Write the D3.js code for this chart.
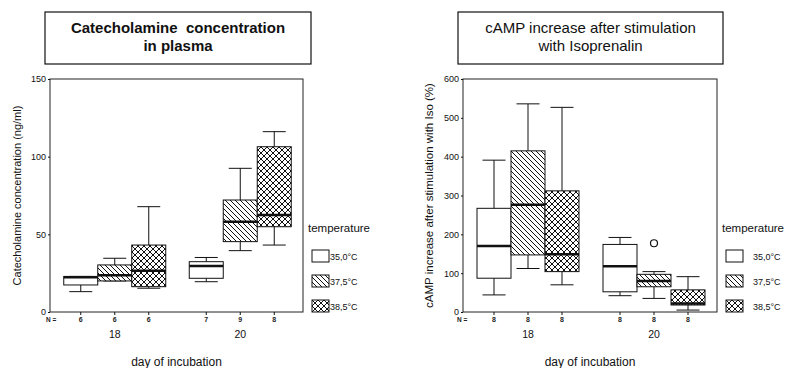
<!DOCTYPE html>
<meta charset="utf-8">
<style>
    body {
        margin: 0;
        background: #fff;
        font-family: Arial, 'Liberation Sans', sans-serif;
    }
</style>
<svg width="785" height="368"></svg>
<script src="https://d3js.org/d3.v7.min.js"></script>
<script>
    // categories
    var days = ["18", "20"];
    var temps = ["35,0°C", "37,5°C", "38,5°C"];

    // catecholamine (ng/ml): [min, q1, median, q3, max], order day18 x3 temps, day20 x3 temps
    var cateStats = [
        [13.1, 17.4, 22.3, 22.9, 22.9],
        [20.0, 20.0, 23.6, 30.3, 34.6],
        [15.3, 16.3, 26.6, 43.1, 67.8],
        [19.5, 21.7, 29.6, 32.4, 35.1],
        [39.5, 45.3, 58.1, 72.1, 92.5],
        [43.1, 54.9, 62.5, 106.4, 116.1]
    ];
    var cateN = [6, 6, 6, 7, 9, 8];
    var cateTicks = [0, 50, 100, 150];

    // cAMP increase (%)
    var campStats = [
        [44, 87, 170, 267, 391],
        [112, 147, 276, 415, 536],
        [70, 104, 149, 312, 527],
        [42, 52, 118, 174, 192],
        [35, 65, 80, 97, 104],
        [5, 18, 22, 57, 91]
    ];
    var campN = [8, 8, 8, 8, 8, 8];
    var campTicks = [0, 100, 200, 300, 400, 500, 600];
    var campOutliers = [{box: 4, value: 177}];

    var svg = d3.select("svg");
    var defs = svg.append("defs");

    // hatch for 37,5 (\\\)
    var p1 = defs.append("pattern")
        .attr("id", "hatch")
        .attr("patternUnits", "userSpaceOnUse")
        .attr("width", 5).attr("height", 5);
    p1.append("rect").attr("width", 5).attr("height", 5).attr("fill", "#fff");
    p1.append("path")
        .attr("d", "M0,0L5,5M-1,4L1,6M4,-1L6,1")
        .attr("stroke", "#111").attr("stroke-width", 1);

    // cross hatch for 38,5
    var p2 = defs.append("pattern")
        .attr("id", "cross")
        .attr("patternUnits", "userSpaceOnUse")
        .attr("width", 6).attr("height", 6);
    p2.append("rect").attr("width", 6).attr("height", 6).attr("fill", "#fff");
    p2.append("path")
        .attr("d", "M0,0L6,6M-1,5L1,7M5,-1L7,1M0,6L6,0M-1,1L1,-1M5,7L7,5")
        .attr("stroke", "#111").attr("stroke-width", 1);

    var fills = ["#fff", "url(#hatch)", "url(#cross)"];

    var plotTop = 79, plotBottom = 312;

    function drawPanel(o) {
        var g = svg.append("g");

        // title box
        g.append("rect")
            .attr("x", o.boxX).attr("y", 12)
            .attr("width", o.boxW).attr("height", 52)
            .attr("fill", "none").attr("stroke", "#111").attr("stroke-width", 1.2);
        o.title.forEach(function (t, i) {
            g.append("text")
                .attr("x", o.boxX + o.boxW / 2)
                .attr("y", 33 + i * 17.5)
                .attr("text-anchor", "middle")
                .attr("font-size", o.titleSize)
                .attr("font-weight", o.titleWeight)
                .attr("fill", "#111")
                .style("white-space", "pre")
                .text(t);
        });

        var y = d3.scaleLinear().domain(o.domain).range([plotBottom, plotTop]);
        var x = d3.scalePoint().domain(days).range([o.left + 2, o.right]).padding(0.5);
        var xi = d3.scaleBand().domain(temps).range([-51, 51]);

        // frame
        g.append("rect")
            .attr("x", o.left).attr("y", plotTop)
            .attr("width", o.right - o.left).attr("height", plotBottom - plotTop)
            .attr("fill", "none").attr("stroke", "#222").attr("stroke-width", 1);

        // y axis
        var ya = g.append("g")
            .attr("transform", "translate(" + o.left + ",0)")
            .call(d3.axisLeft(y).tickValues(o.ticks).tickSize(2).tickPadding(2));
        ya.select(".domain").remove();
        ya.selectAll("text").attr("font-size", 9).attr("font-family", "Arial, 'Liberation Sans', sans-serif").attr("fill", "#111");
        ya.selectAll("line").attr("stroke", "#111");

        var boxes = [];
        days.forEach(function (d, di) {
            temps.forEach(function (t, ti) {
                var k = di * 3 + ti;
                boxes.push({day: d, temp: t, ti: ti, s: o.stats[k], n: o.n[k],
                    cx: x(d) + xi(t) + xi.bandwidth() / 2, x0: x(d) + xi(t)});
            });
        });

        // x ticks and N
        boxes.forEach(function (b) {
            g.append("line")
                .attr("x1", b.cx).attr("x2", b.cx)
                .attr("y1", plotBottom).attr("y2", plotBottom + 3)
                .attr("stroke", "#111");
            g.append("text")
                .attr("x", b.cx).attr("y", 322)
                .attr("text-anchor", "middle")
                .attr("font-size", 7).attr("font-weight", "bold")
                .attr("fill", "#222")
                .text(b.n);
        });
        g.append("text")
            .attr("x", o.left - o.nShift).attr("y", 322)
            .attr("font-size", 6.5).attr("font-weight", "bold").attr("fill", "#222")
            .text("N =");

        days.forEach(function (d) {
            g.append("text")
                .attr("x", x(d)).attr("y", 338)
                .attr("text-anchor", "middle")
                .attr("font-size", 10.5).attr("fill", "#111")
                .text(d);
        });

        g.append("text")
            .attr("x", (o.left + o.right) / 2).attr("y", 366)
            .attr("text-anchor", "middle")
            .attr("font-size", 12).attr("fill", "#111")
            .text("day of incubation");

        g.append("text")
            .attr("transform", "translate(" + o.ylabX + "," + ((plotTop + plotBottom) / 2) + ") rotate(-90)")
            .attr("text-anchor", "middle")
            .attr("font-size", o.ylabSize).attr("fill", "#111")
            .text(o.ylabel);

        // boxes
        var bw = xi.bandwidth(), cap = 23;
        boxes.forEach(function (b) {
            var s = b.s;
            g.append("line")
                .attr("x1", b.cx).attr("x2", b.cx)
                .attr("y1", y(s[0])).attr("y2", y(s[4]))
                .attr("stroke", "#111");
            [s[0], s[4]].forEach(function (v) {
                g.append("line")
                    .attr("x1", b.cx - cap / 2).attr("x2", b.cx + cap / 2)
                    .attr("y1", y(v)).attr("y2", y(v))
                    .attr("stroke", "#111");
            });
            g.append("rect")
                .attr("x", b.x0).attr("y", y(s[3]))
                .attr("width", bw).attr("height", y(s[1]) - y(s[3]))
                .attr("fill", fills[b.ti]).attr("stroke", "#111").attr("stroke-width", 1);
            g.append("line")
                .attr("x1", b.x0).attr("x2", b.x0 + bw)
                .attr("y1", y(s[2])).attr("y2", y(s[2]))
                .attr("stroke", "#111").attr("stroke-width", 2.5);
        });

        (o.outliers || []).forEach(function (d) {
            g.append("circle")
                .attr("cx", boxes[d.box].cx).attr("cy", y(d.value))
                .attr("r", 3.5)
                .attr("fill", "#fff").attr("stroke", "#111").attr("stroke-width", 1.2);
        });

        // legend
        g.append("text")
            .attr("x", o.right + o.legTitleDx).attr("y", 232)
            .attr("font-size", 11.5).attr("fill", "#111")
            .text("temperature");
        temps.forEach(function (t, i) {
            g.append("rect")
                .attr("x", o.right + 9).attr("y", 250 + i * 25)
                .attr("width", 17).attr("height", 12)
                .attr("fill", fills[i]).attr("stroke", "#111");
            g.append("text")
                .attr("x", o.right + o.legLabDx).attr("y", 259.5 + i * 25)
                .attr("font-size", 9).attr("fill", "#111")
                .text(t);
        });
    }

    drawPanel({
        boxX: 45, boxW: 266, title: ["Catecholamine  concentration", "in plasma"],
        titleSize: 15, titleWeight: "bold",
        left: 50, right: 303, domain: [0, 150], ticks: cateTicks,
        stats: cateStats, n: cateN, nShift: 4, ylabX: 21, ylabSize: 11,
        ylabel: "Catecholamine concentration (ng/ml)",
        legTitleDx: 5, legLabDx: 27
    });

    drawPanel({
        boxX: 458, boxW: 265, title: ["cAMP increase after stimulation", "with Isoprenalin"],
        titleSize: 15, titleWeight: "normal",
        left: 463, right: 717, domain: [0, 600], ticks: campTicks,
        stats: campStats, n: campN, nShift: 6, ylabX: 433, ylabSize: 11.5,
        ylabel: "cAMP increase after stimulation with Iso (%)",
        outliers: campOutliers,
        legTitleDx: 5, legLabDx: 36
    });
</script>
